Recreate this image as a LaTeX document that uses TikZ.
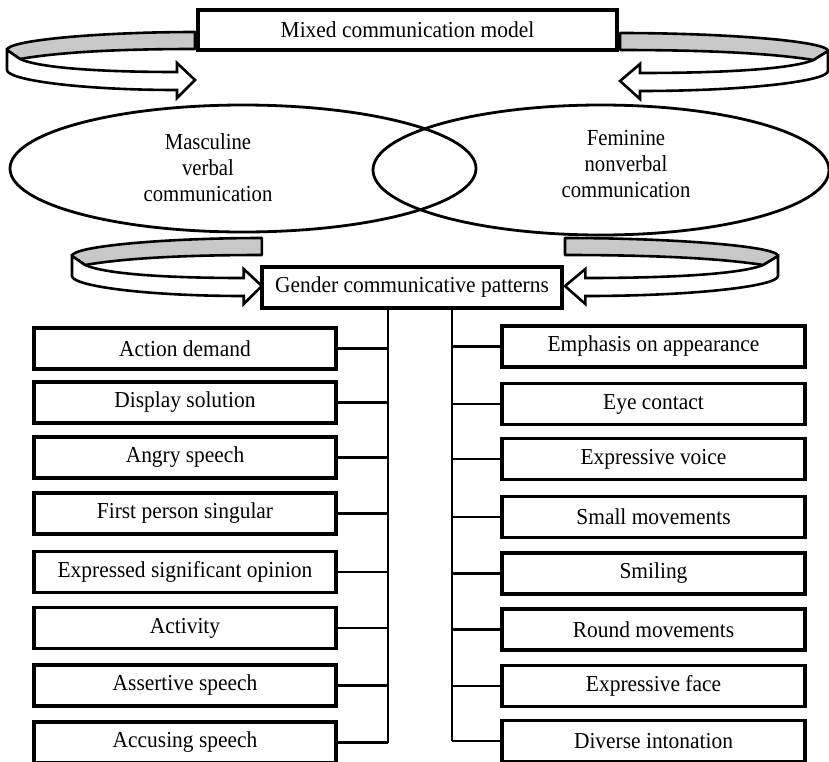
\documentclass[tikz,border=0pt]{standalone}
\usepackage{fontspec}
\setmainfont{Liberation Serif}
\usetikzlibrary{shapes.geometric}
\definecolor{bandgray}{RGB}{200,200,200}
\newcommand\tx[1]{\scalebox{0.94}[1]{\fontsize{22.8}{27}\selectfont #1}}
\newcommand\txm[1]{\scalebox{0.9}[1]{\fontsize{23}{26}\selectfont\begin{tabular}{@{}c@{}}#1\end{tabular}}}
\tikzset{
  box/.style={draw, line width=3.2pt, minimum width=302pt, minimum height=41pt, inner sep=0pt},
  link/.style={line width=2.4pt},
  ell/.style={draw, ellipse, line width=2.8pt, inner sep=0pt},
  elltext/.style={align=center, inner sep=0pt},
  band/.style={draw, line width=2.6pt, fill=bandgray, line join=round},
  ribbon/.style={draw, line width=2.6pt, fill=white, line join=miter},
}
\newcommand\myloop{%
  \path[band] (188,0) .. controls (95,0) and (0,8) .. (0,18) -- (13,27) .. controls (53,20) and (113,17) .. (188,17) -- cycle;
  \path[ribbon] (0,18) -- (0,38) .. controls (0,48) and (73,58) .. (170,58) -- (170,66) -- (188,48) -- (170,31) -- (170,40) .. controls (93,40) and (33,36) .. (13,27) -- cycle;
}
\begin{document}
\begin{tikzpicture}[x=1pt, y=-1pt]
\useasboundingbox (0,0) rectangle (829,761);
\clip (0,0) rectangle (829,761);

% loops
\begin{scope}[shift={(7,32)}, xscale=1]\myloop\end{scope}
\begin{scope}[shift={(828,33)}, xscale=-1.106]\myloop\end{scope}
\begin{scope}[shift={(72,238)}, xscale=1.01]\myloop\end{scope}
\begin{scope}[shift={(778,238)}, xscale=-1.133]\myloop\end{scope}

% top box
\node[box, minimum width=419pt, minimum height=40pt] (mixed) at (407.5,30) {\tx{Mixed communication model}};

% ellipses
\node[ell, minimum width=466pt, minimum height=127pt] (masc) at (243,168.5) {};
\node[ell, minimum width=456pt, minimum height=130pt] (fem) at (601,170) {};
\node[elltext] (mtext) at (208,170) {\txm{Masculine\\verbal\\communication}};
\node[elltext] (ftext) at (626,166) {\txm{Feminine\\nonverbal\\communication}};

% gender box
\node[box, minimum width=300pt, minimum height=41pt] (gender) at (412,287.5) {\tx{Gender communicative patterns}};

\coordinate (ltrunk) at (388,0);
\coordinate (rtrunk) at (452,0);

% left boxes
\node[box] (L1) at (185,348.5) {\tx{Action demand}};
\node[box] (L2) at (185,402.5) {\tx{Display solution}};
\node[box] (L3) at (185,457.5) {\tx{Angry speech}};
\node[box] (L4) at (185,513.5) {\tx{First person singular}};
\node[box] (L5) at (185,572) {\tx{Expressed significant opinion}};
\node[box] (L6) at (185,628) {\tx{Activity}};
\node[box] (L7) at (185,685.5) {\tx{Assertive speech}};
\node[box] (L8) at (185,742.5) {\tx{Accusing speech}};

% right boxes
\node[box, minimum width=303pt] (R1) at (653.5,346.5) {\tx{Emphasis on appearance}};
\node[box, minimum width=303pt] (R2) at (653.5,404) {\tx{Eye contact}};
\node[box, minimum width=303pt] (R3) at (653.5,459) {\tx{Expressive voice}};
\node[box, minimum width=303pt] (R4) at (653.5,517) {\tx{Small movements}};
\node[box, minimum width=303pt] (R5) at (653.5,573.5) {\tx{Smiling}};
\node[box, minimum width=303pt] (R6) at (653.5,629.5) {\tx{Round movements}};
\node[box, minimum width=303pt] (R7) at (653.5,686) {\tx{Expressive face}};
\node[box, minimum width=303pt] (R8) at (653.5,741) {\tx{Diverse intonation}};

% trunks
\draw[link] (gender.south -| ltrunk) -- (L8.east -| ltrunk);
\draw[link] (gender.south -| rtrunk) -- (R8.west -| rtrunk);
\foreach \i in {1,...,8}{
  \draw[link] (L\i.east) -- (L\i.east -| ltrunk);
  \draw[link] (R\i.west) -- (R\i.west -| rtrunk);
}
\end{tikzpicture}
\end{document}
